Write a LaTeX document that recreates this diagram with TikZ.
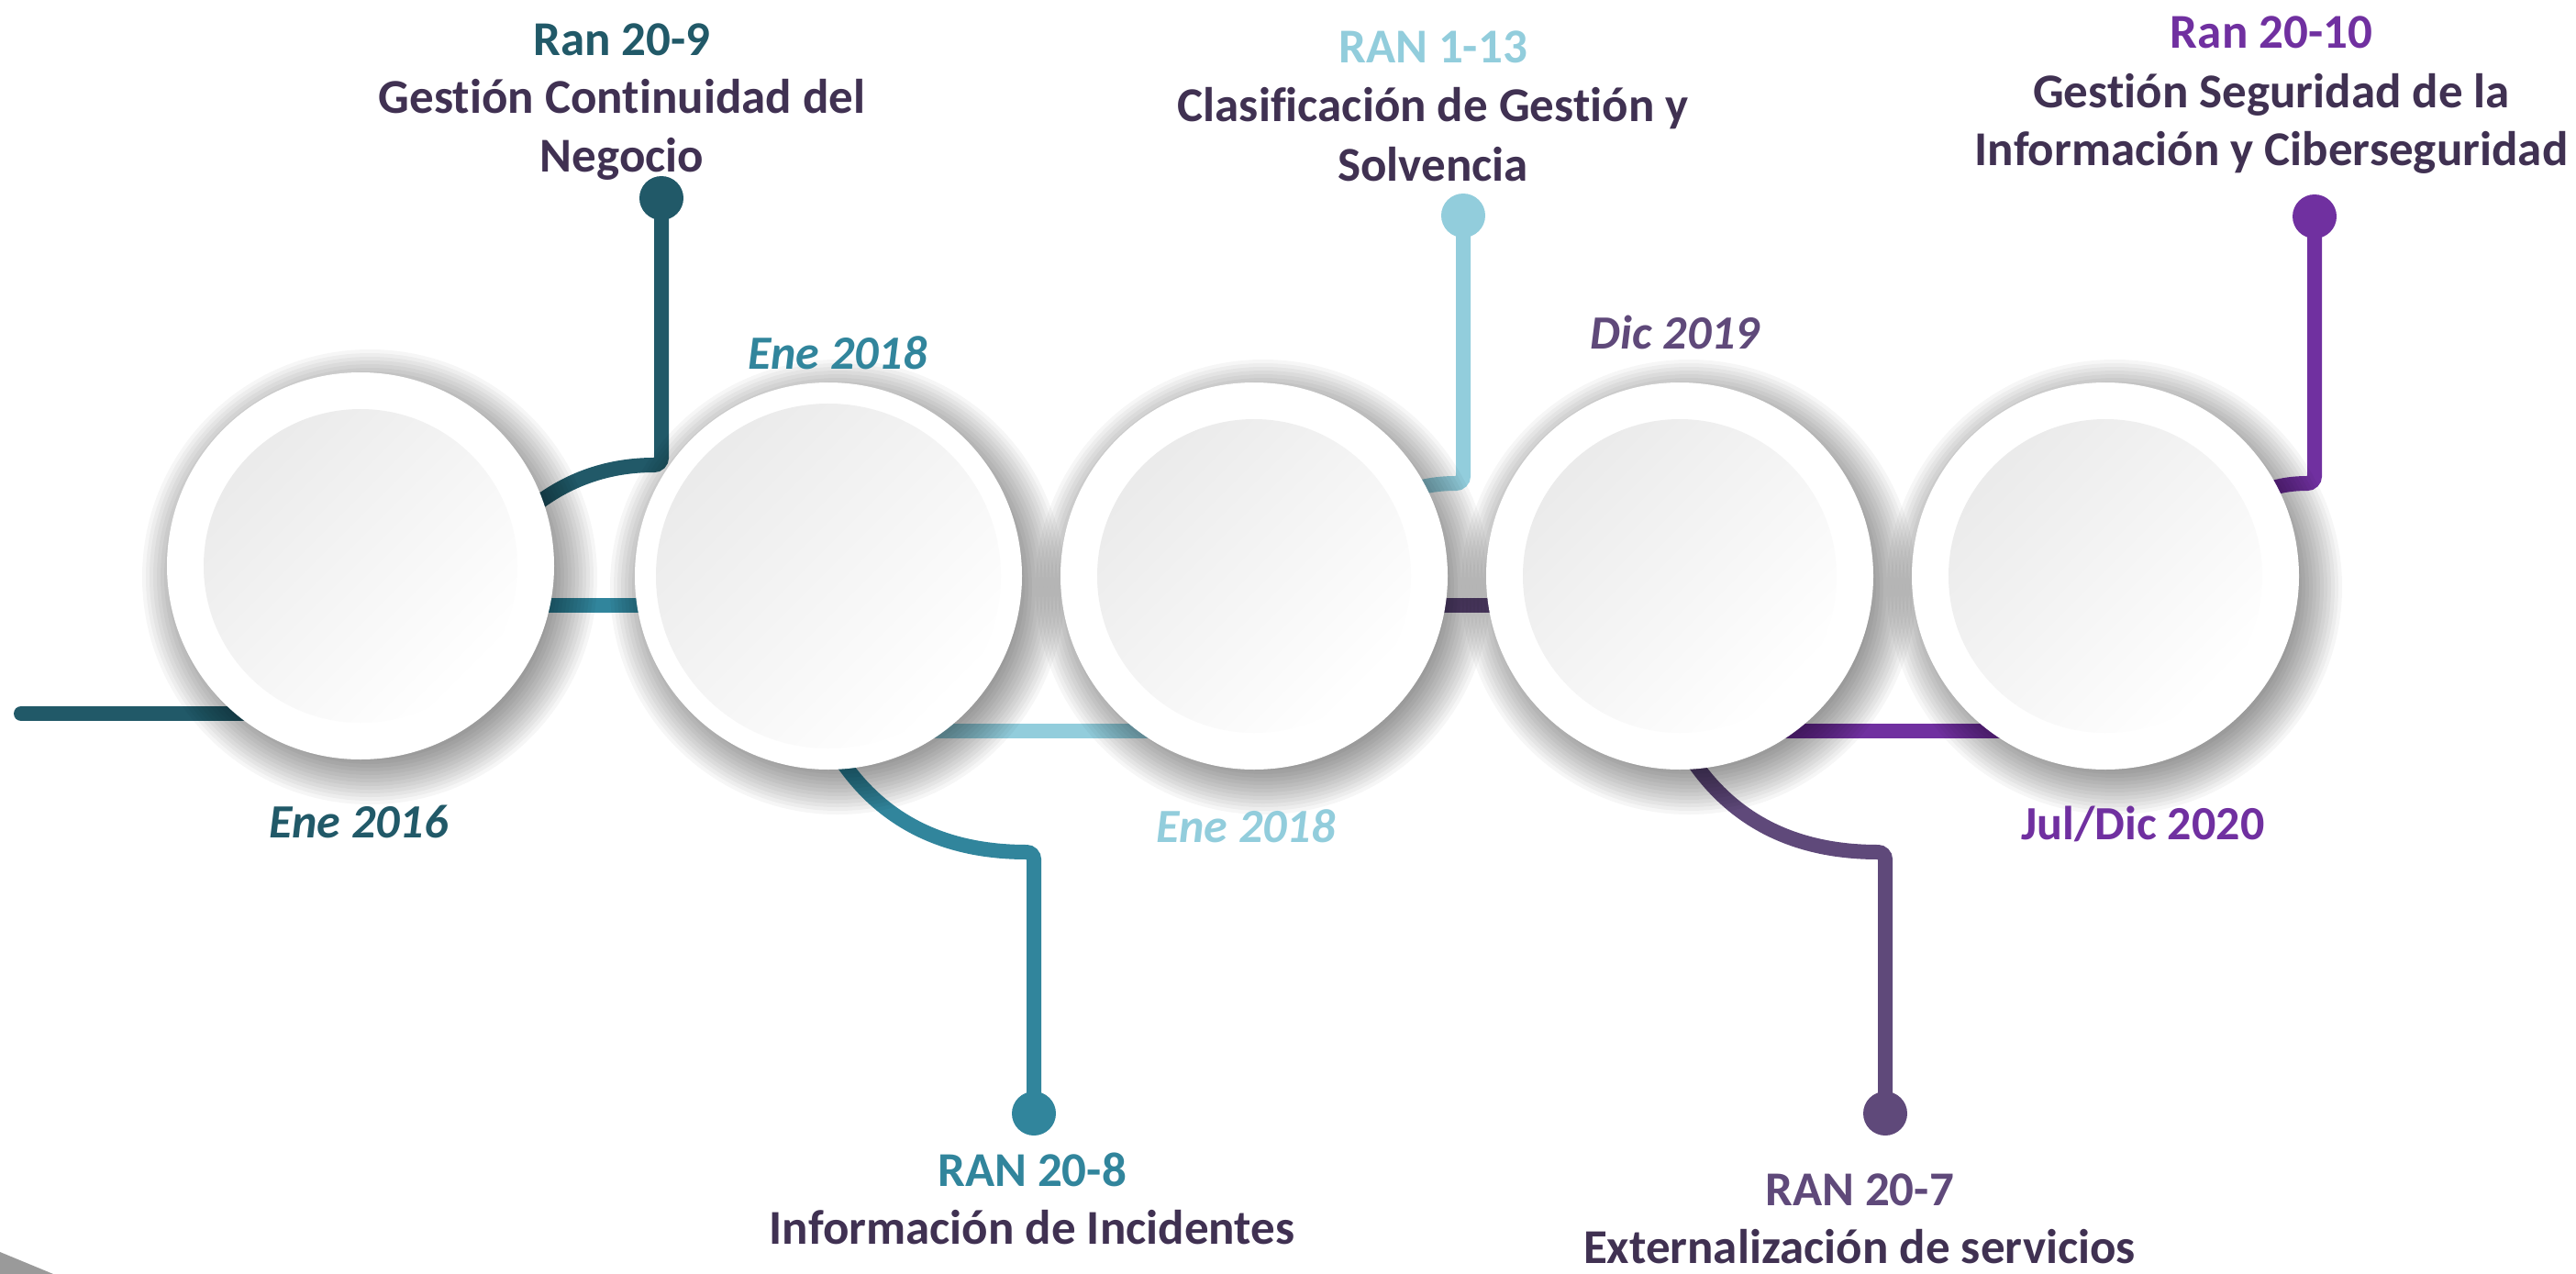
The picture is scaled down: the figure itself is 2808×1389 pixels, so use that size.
\documentclass[tikz,border=0pt]{standalone}
\usepackage{fontspec}
\setmainfont{Carlito}[Ligatures={NoCommon}]
\usetikzlibrary{calc}
\definecolor{darkteal}{HTML}{215968}
\definecolor{teal2}{HTML}{31859C}
\definecolor{lightblue}{HTML}{92CDDC}
\definecolor{darkpurple}{HTML}{5F497A}
\definecolor{purple2}{HTML}{7030A0}
\definecolor{textpurple}{HTML}{403152}
\definecolor{cornergray}{HTML}{9A9A9A}
\pgfdeclarelayer{bg}
\pgfdeclarelayer{lines}
\pgfdeclarelayer{shadow}
\pgfsetlayers{bg,lines,shadow,main}
\tikzset{
  ring/.style={circle, fill=white, minimum size=422pt, inner sep=0pt},
  core/.style={circle, minimum size=#1, inner sep=0pt, top color=black!8, bottom color=white, shading angle=45},
  core/.default=342pt,
  dotnode/.style={circle, minimum size=48pt, inner sep=0pt, fill=#1},
  conn/.style={line width=16pt, line cap=round, draw=#1},
  bend/.style={line width=16pt, line cap=round, draw=#1, rounded corners=8pt},
  lbl/.style={anchor=base, inner sep=0pt, font=\fontsize{53}{64}\selectfont\bfseries, text=#1},
  datelbl/.style={anchor=base, inner sep=0pt, font=\fontsize{52}{62}\selectfont\bfseries\itshape, text=#1},
  dateup/.style={anchor=base, inner sep=0pt, font=\fontsize{52}{62}\selectfont\bfseries, text=#1},
}
\begin{document}
\begin{tikzpicture}[x=1pt,y=-1pt]
\useasboundingbox (0,0) rectangle (2808,1389);
\begin{pgfonlayer}{bg}
\fill[white] (0,0) rectangle (2808,1389);
\end{pgfonlayer}
\fill[cornergray] (0,1365) -- (58,1389) -- (0,1389) -- cycle;

% circles
\node[ring] (c1) at (393,617) {};
\node[core] (i1) at (c1) {};
\node[ring] (c2) at (903,628) {};
\node[core=376pt] (i2) at (c2) {};
\node[ring] (c3) at (1367,628) {};
\node[core] (i3) at (c3) {};
\node[ring] (c4) at (1831,628) {};
\node[core] (i4) at (c4) {};
\node[ring] (c5) at (2295,628) {};
\node[core] (i5) at (c5) {};

% dots
\node[dotnode=darkteal] (d1) at (721,216) {};
\node[dotnode=teal2] (d2) at (1127,1214) {};
\node[dotnode=lightblue] (d3) at (1595,235) {};
\node[dotnode=darkpurple] (d4) at (2055,1214) {};
\node[dotnode=purple2] (d5) at (2523,236) {};

% shadows
\begin{pgfonlayer}{shadow}
\foreach \c in {c1,c2,c3,c4,c5}{
  \foreach \r in {196,200,...,248}{
    \fill[black,opacity=0.035] ($(\c)+(10,12)$) circle[radius=\r pt];
  }
}
\end{pgfonlayer}

% connectors
\begin{pgfonlayer}{lines}
\coordinate (l0s) at (23,778);
\coordinate (l0e) at (393,778);
\coordinate (l1s) at (393,660);
\coordinate (l1e) at (903,660);
\coordinate (l2s) at (903,797);
\coordinate (l2e) at (1367,797);
\coordinate (l3s) at (1367,660);
\coordinate (l3e) at (1831,660);
\coordinate (l4s) at (1831,797);
\coordinate (l4e) at (2295,797);
\draw[conn=darkteal] (l0s) -- (l0e);
\draw[conn=teal2] (l1s) -- (l1e);
\draw[conn=lightblue] (l2s) -- (l2e);
\draw[conn=darkpurple] (l3s) -- (l3e);
\draw[conn=purple2] (l4s) -- (l4e);

\coordinate (b1s) at (520,620);
\coordinate (b1k) at (721,507);
\draw[bend=darkteal] (b1s) .. controls (562,558) and (622,507) .. (b1k) -- (d1.center);
\coordinate (b2s) at (890,780);
\coordinate (b2k) at (1127,929);
\draw[bend=teal2] (b2s) .. controls (930,870) and (1000,929) .. (b2k) -- (d2.center);
\coordinate (b3s) at (1480,565);
\coordinate (b3k) at (1595,527);
\draw[bend=lightblue] (b3s) .. controls (1520,537) and (1550,527) .. (b3k) -- (d3.center);
\coordinate (b4s) at (1818,780);
\coordinate (b4k) at (2055,929);
\draw[bend=darkpurple] (b4s) .. controls (1858,870) and (1928,929) .. (b4k) -- (d4.center);
\coordinate (b5s) at (2410,567);
\coordinate (b5k) at (2523,527);
\draw[bend=purple2] (b5s) .. controls (2450,538) and (2480,527) .. (b5k) -- (d5.center);
\end{pgfonlayer}

% labels top-left
\node[lbl=darkteal] (t1a) at (678,60) {Ran 20-9};
\node[lbl=textpurple] (t1b) at (678,123) {Gestión Continuidad del};
\node[lbl=textpurple] (t1c) at (678,187) {Negocio};
% top-middle
\node[lbl=lightblue] (t3a) at (1562,68) {RAN 1-13};
\node[lbl=textpurple] (t3b) at (1562,132) {Clasificación de Gestión y};
\node[lbl=textpurple] (t3c) at (1562,197) {Solvencia};
% top-right
\node[lbl=purple2] (t5a) at (2476,53) {Ran 20-10};
\node[lbl=textpurple] (t5b) at (2476,117) {Gestión Seguridad de la};
\node[lbl=textpurple] (t5c) at (2476,180) {Información y Ciberseguridad};
% bottom
\node[lbl=teal2] (t2a) at (1125,1293) {RAN 20-8};
\node[lbl=textpurple] (t2b) at (1125,1356) {Información de Incidentes};
\node[lbl=darkpurple] (t4a) at (2027,1314) {RAN 20-7};
\node[lbl=textpurple] (t4b) at (2027,1377) {Externalización de servicios};

% dates
\node[datelbl=darkteal] (e1) at (391,913) {Ene 2016};
\node[datelbl=teal2] (e2) at (913,402) {Ene 2018};
\node[datelbl=lightblue] (e3) at (1358,918) {Ene 2018};
\node[datelbl=darkpurple] (e4) at (1826,380) {Dic 2019};
\node[dateup=purple2] (e5) at (2336,915) {Jul/Dic 2020};
\end{tikzpicture}
\end{document}
